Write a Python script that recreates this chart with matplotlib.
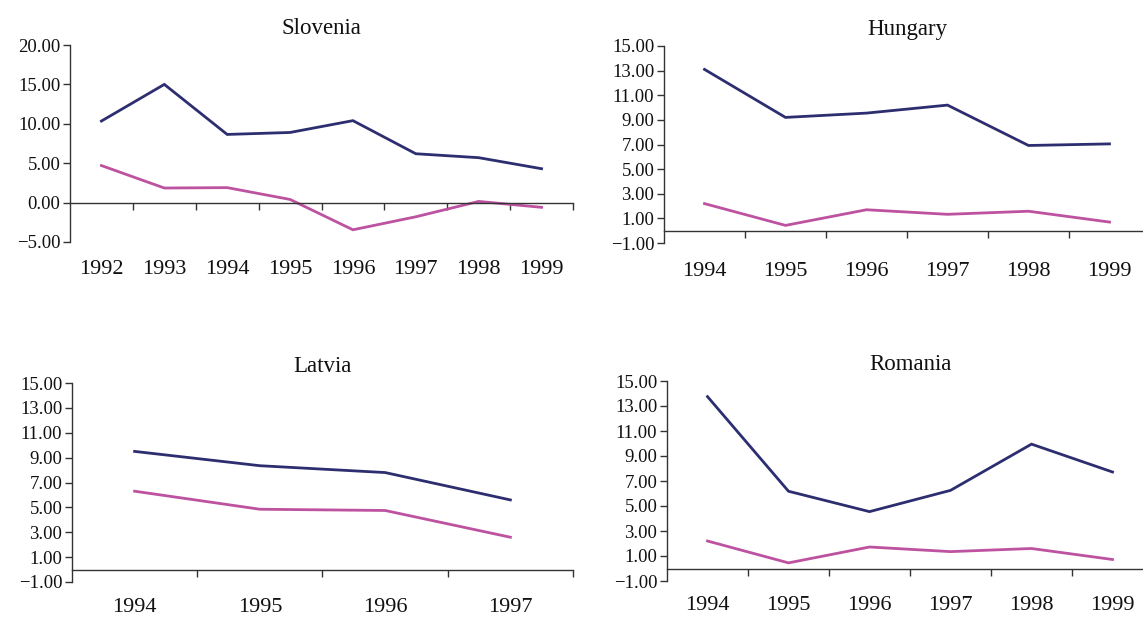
import matplotlib.pyplot as plt
from matplotlib.ticker import FuncFormatter, FixedLocator
from matplotlib import transforms

plt.rcParams['font.family'] = ['Liberation Serif', 'DejaVu Serif']

# data
slo_years = ["1992", "1993", "1994", "1995", "1996", "1997", "1998", "1999"]
slo_blue = [10.35, 15.0, 8.65, 8.9, 10.4, 6.2, 5.7, 4.3]
slo_pink = [4.7, 1.85, 1.9, 0.4, -3.45, -1.8, 0.15, -0.6]

hun_years = ["1994", "1995", "1996", "1997", "1998", "1999"]
hun_blue = [13.1, 9.2, 9.55, 10.2, 6.92, 7.05]
hun_pink = [2.2, 0.43, 1.7, 1.33, 1.58, 0.7]

lat_years = ["1994", "1995", "1996", "1997"]
lat_blue = [9.5, 8.35, 7.8, 5.6]
lat_pink = [6.3, 4.85, 4.75, 2.6]

rom_years = ["1994", "1995", "1996", "1997", "1998", "1999"]
rom_blue = [13.75, 6.18, 4.55, 6.25, 9.95, 7.72]
rom_pink = [2.2, 0.45, 1.72, 1.35, 1.6, 0.72]

BLUE = "#2d2e70"
PINK = "#bd52a0"
AX = "#333333"

W, H = 1143, 617
fig = plt.figure(figsize=(W / 100, H / 100), dpi=100)


def panel(left, right, top, bottom, title, years, blue, pink, ymin, ymax, step, lab_off):
    ax = fig.add_axes([left / W, 1 - bottom / H, (right - left) / W, (bottom - top) / H])
    n = len(years)
    x = list(range(n))
    ax.plot(x, blue, color=BLUE, lw=2.0, solid_joinstyle='miter')
    ax.plot(x, pink, color=PINK, lw=2.0, solid_joinstyle='miter')
    ax.set_xlim(-0.5, n - 0.5)
    ax.set_ylim(ymin, ymax)
    for s in ['top', 'right']:
        ax.spines[s].set_visible(False)
    ax.spines['bottom'].set_position(('data', 0))
    for s in ['left', 'bottom']:
        ax.spines[s].set_color(AX)
        ax.spines[s].set_linewidth(1.0)
    # category boundaries carry the tick marks, labels sit below the plot
    ax.xaxis.set_major_locator(FixedLocator([k + 0.5 for k in range(n)]))
    ax.tick_params(axis='x', direction='out', length=5, width=1.0, color=AX, labelbottom=False)
    yt = []
    v = ymin
    while v <= ymax + 1e-9:
        yt.append(v)
        v += step
    ax.set_yticks(yt)
    ax.yaxis.set_major_formatter(FuncFormatter(lambda val, pos: f"{val:.2f}".replace("-", "\u2212")))
    ax.tick_params(axis='y', direction='out', length=5, width=1.0, color=AX, pad=2,
                   labelsize=13.5, labelcolor="#111111")
    trans = transforms.blended_transform_factory(ax.transData, ax.transAxes)
    hpx = bottom - top
    for xi, yr in zip(x, years):
        ax.text(xi, -lab_off / hpx, yr, transform=trans, ha='center', va='center',
                fontsize=16, color="#111111")
    ax.text(0.5, 1 + 17 / hpx, title, transform=ax.transAxes, ha='center', va='center',
            fontsize=16.5, color="#111111")
    return ax


panel(70, 573, 45, 242, "Slovenia", slo_years, slo_blue, slo_pink, -5, 20, 5, 28)
panel(664, 1150, 46, 243, "Hungary", hun_years, hun_blue, hun_pink, -1, 15, 2, 28)
panel(72, 573, 383, 582, "Latvia", lat_years, lat_blue, lat_pink, -1, 15, 2, 25)
panel(667, 1153, 381, 581, "Romania", rom_years, rom_blue, rom_pink, -1, 15, 2, 25)

fig.savefig("out.png", dpi=100)
